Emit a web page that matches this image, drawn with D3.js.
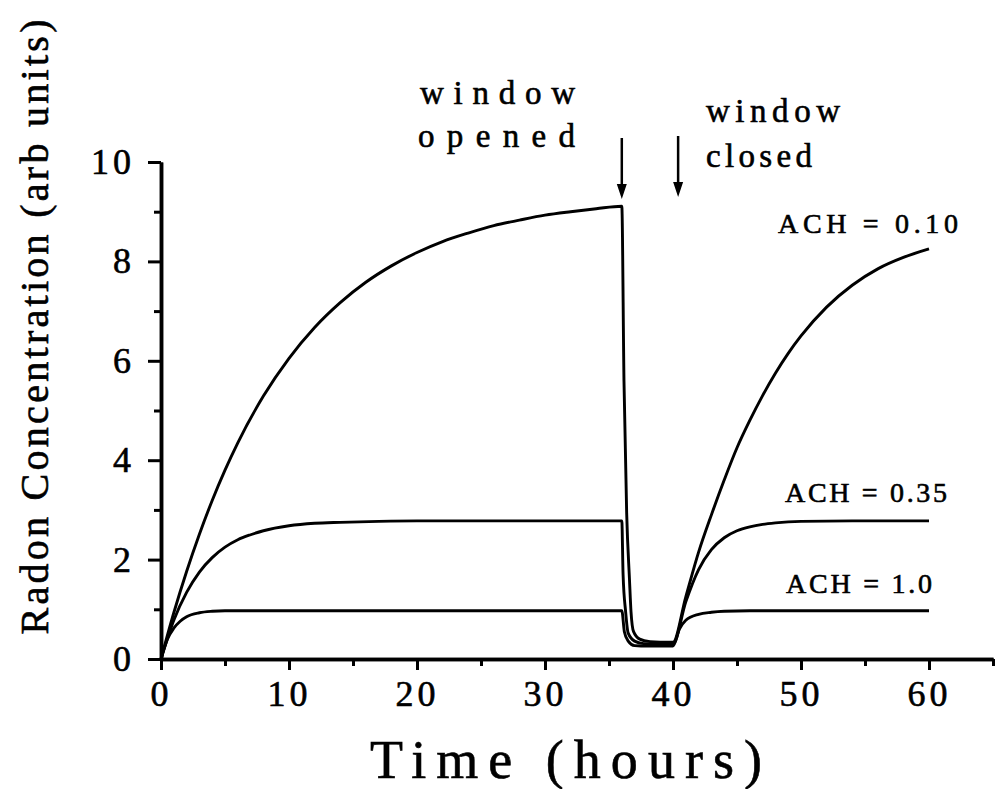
<!DOCTYPE html>
<html>
<head>
<meta charset="utf-8">
<script src="https://cdn.jsdelivr.net/npm/d3@7"></script>
<style>
body { margin: 0; background: #fff; }
svg { display: block; }
text { font-family: "Liberation Serif", "Times New Roman", serif; fill: #000; stroke: #000; stroke-width: 0.6px; }
</style>
</head>
<body>
<svg id="chart"></svg>
<script>
"use strict";

var svg_width = 996;
var svg_height = 789;

// ACH = 0.10
var hours010 = [0, 1, 2, 3, 4, 5, 6, 8, 10, 12, 14, 16, 18, 20, 22, 24, 26, 28, 30, 32, 34, 36,
    36.17, 36.38, 36.6, 36.72, 36.92, 37.4, 38.2, 39, 40,
    41, 42, 43, 44, 45, 46, 47, 48, 49, 50, 52, 54, 56, 58, 60];
var conc010 = [0, 0.93, 1.76, 2.51, 3.19, 3.80, 4.35, 5.29, 6.05, 6.67, 7.17, 7.58, 7.91, 8.18, 8.40, 8.57, 8.72, 8.83, 8.93, 9.00, 9.06, 9.11,
    5.6, 2.94, 1.6, 0.95, 0.55, 0.40, 0.35, 0.34, 0.34,
    1.25, 2.15, 2.9, 3.6, 4.25, 4.8, 5.3, 5.75, 6.15, 6.5, 7.08, 7.52, 7.85, 8.08, 8.25];

// ACH = 0.35
var hours035 = [0, 1, 2, 3, 4, 5, 6, 7, 8, 10, 12, 14, 17, 20, 36,
    36.1, 36.3, 36.5, 37, 37.7, 38.5, 40,
    41, 42, 43, 44, 45, 46, 47, 48, 50, 54, 60];
var conc035 = [0, 0.78, 1.34, 1.75, 2.04, 2.25, 2.40, 2.50, 2.58, 2.68, 2.73, 2.75, 2.77, 2.78, 2.78,
    1.7, 0.95, 0.52, 0.36, 0.31, 0.30, 0.30,
    1.15, 1.8, 2.2, 2.44, 2.58, 2.66, 2.71, 2.74, 2.77, 2.78, 2.78];

// ACH = 1.0
var hours100 = [0, 0.5, 1, 1.5, 2, 3, 4, 5, 36,
    36.2, 36.5, 37, 38, 40,
    40.5, 41, 42, 43, 44, 46, 60];
var conc100 = [0, 0.4, 0.62, 0.76, 0.85, 0.93, 0.96, 0.97, 0.97,
    0.55, 0.36, 0.27, 0.26, 0.26,
    0.6, 0.78, 0.9, 0.94, 0.96, 0.97, 0.97];

var majorX = [0, 10, 20, 30, 40, 50, 60];
var minorX = [5, 15, 25, 35, 45, 55, 65];
var majorY = [0, 2, 4, 6, 8, 10];
var minorY = [1, 3, 5, 7, 9];

var seriesLabels = [
    {text: "ACH = 0.10", x: 778, y: 233, len: 180},
    {text: "ACH = 0.35", x: 785, y: 502, len: 162},
    {text: "ACH = 1.0", x: 786, y: 593, len: 146}
];

var svg = d3.select("#chart")
    .attr("width", svg_width)
    .attr("height", svg_height);

var xScale = d3.scaleLinear().domain([0, 65]).range([161, 993]);
var yScale = d3.scaleLinear().domain([0, 10]).range([659, 162]);

function pairs(hs, cs) {
    return hs.map(function(h, i) { return {t: h, v: cs[i]}; });
}

var line = d3.line()
    .x(function(d) { return xScale(d.t); })
    .y(function(d) { return yScale(d.v); })
    .curve(d3.curveMonotoneX);

svg.selectAll(".curve")
    .data([pairs(hours010, conc010), pairs(hours035, conc035), pairs(hours100, conc100)])
    .enter().append("path")
    .attr("class", "curve")
    .attr("d", line)
    .attr("fill", "none")
    .attr("stroke", "#000")
    .attr("stroke-width", 2.9)
    .attr("stroke-linejoin", "round");

// Axes
function styleAxis(g) {
    g.selectAll("path.domain").attr("stroke", "#000").attr("stroke-width", 3.5);
    g.selectAll(".tick line").attr("stroke", "#000").attr("stroke-width", 3);
    g.selectAll(".tick text")
        .style("font-family", "'Liberation Serif', serif")
        .style("font-size", "36px")
        .style("letter-spacing", "4px")
        .attr("fill", "#000");
}

svg.append("g")
    .attr("class", "axis axis--x")
    .attr("transform", "translate(0," + yScale(0) + ")")
    .call(d3.axisBottom(xScale).tickValues(majorX).tickSize(11).tickSizeOuter(0).tickPadding(10))
    .call(styleAxis);
svg.append("g")
    .attr("transform", "translate(0," + yScale(0) + ")")
    .call(d3.axisBottom(xScale).tickValues(minorX).tickSize(7).tickSizeOuter(0).tickFormat(""))
    .call(styleAxis);

svg.append("g")
    .attr("class", "axis axis--y")
    .attr("transform", "translate(" + xScale(0) + ",0)")
    .call(d3.axisLeft(yScale).tickValues(majorY).tickSize(13).tickSizeOuter(0).tickPadding(13))
    .call(styleAxis);
svg.append("g")
    .attr("transform", "translate(" + xScale(0) + ",0)")
    .call(d3.axisLeft(yScale).tickValues(minorY).tickSize(7).tickSizeOuter(0).tickFormat(""))
    .call(styleAxis);

// Axis titles
svg.append("text")
    .attr("x", 370)
    .attr("y", 778)
    .attr("textLength", 392)
    .attr("lengthAdjust", "spacing")
    .style("font-size", "54px")
    .text("Time (hours)");

svg.append("text")
    .attr("text-anchor", "middle")
    .attr("transform", "translate(48,327) rotate(-90)")
    .attr("textLength", 615)
    .attr("lengthAdjust", "spacing")
    .style("font-size", "40px")
    .text("Radon Concentration (arb units)");

// Series labels
svg.selectAll(".ach-label")
    .data(seriesLabels)
    .enter().append("text")
    .attr("class", "ach-label")
    .attr("x", function(d) { return d.x; })
    .attr("y", function(d) { return d.y; })
    .attr("textLength", function(d) { return d.len; })
    .attr("lengthAdjust", "spacing")
    .style("font-size", "28px")
    .text(function(d) { return d.text; });

// Window annotations
var notes = [
    {text: "window", x: 420, y: 104, len: 155},
    {text: "opened", x: 418, y: 147, len: 157},
    {text: "window", x: 706, y: 122, len: 134},
    {text: "closed", x: 706, y: 167, len: 106}
];
svg.selectAll(".note")
    .data(notes)
    .enter().append("text")
    .attr("class", "note")
    .attr("x", function(d) { return d.x; })
    .attr("y", function(d) { return d.y; })
    .attr("textLength", function(d) { return d.len; })
    .attr("lengthAdjust", "spacing")
    .style("font-size", "33px")
    .text(function(d) { return d.text; });

var arrows = [
    {t: 36, top: 138, tip: 199},
    {t: 40.4, top: 136, tip: 197}
];
arrows.forEach(function(a) {
    var x = xScale(a.t);
    svg.append("line")
        .attr("x1", x).attr("x2", x)
        .attr("y1", a.top).attr("y2", a.tip - 10)
        .attr("stroke", "#000")
        .attr("stroke-width", 2.5);
    svg.append("path")
        .attr("d", "M" + (x - 5) + "," + (a.tip - 15) + "L" + (x + 5) + "," + (a.tip - 15) + "L" + x + "," + a.tip + "Z")
        .attr("fill", "#000");
});
</script>
</body>
</html>
